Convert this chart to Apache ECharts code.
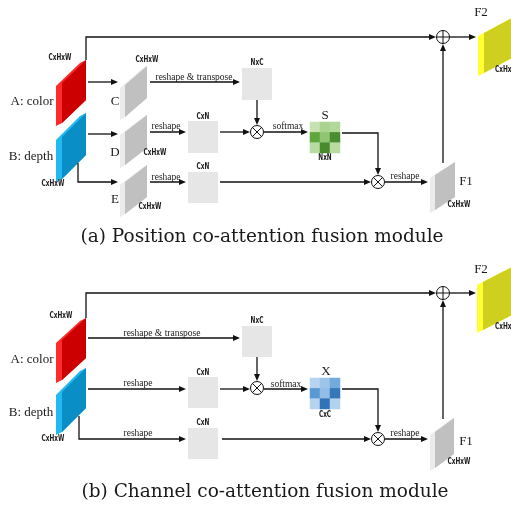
<!DOCTYPE html>
<html><head><meta charset="utf-8">
<script src="https://cdn.jsdelivr.net/npm/echarts@6/dist/echarts.min.js"></script>
<style>html,body{margin:0;padding:0;background:#fff}#c{width:511px;height:505px}</style>
</head><body><div id="c"></div><script>
// ---------- data (labels and attention-map values) ----------
const captions = ['(a) Position co-attention fusion module', '(b) Channel co-attention fusion module'];
const inputLabels = ['A: color', 'B: depth'];
const branchLabels = ['C', 'D', 'E'];
const outputLabels = ['F1', 'F2'];
const attnLabels = ['S', 'X'];
const attnDims = ['NxN', 'CxC'];
const dimLabels = ['CxHxW', 'NxC', 'CxN'];
const opLabels = ['reshape & transpose', 'reshape', 'softmax'];
const cellIdx = ['0', '1', '2'];
const heatS = [[0.15, 0.3, 0.25], [0.66, 0.42, 0.88], [0.22, 0.9, 0.22]];
const heatX = [[0.2, 0.35, 0.55], [0.68, 0.4, 0.92], [0.2, 0.95, 0.22]];

// ---------- layout (pixel space of the hidden value axes) ----------
const RED = ['#ff2a2a', '#cc0000'], BLUE = ['#22b8f0', '#0a8ec6'], GRAY = ['#ebebeb', '#c0c0c0'], YEL = ['#ffff33', '#cfcf1f'];
const slabs = [
  [56, 86, 83, 60, 40, 6, RED], [56, 86, 137, 113, 42, 6, BLUE],
  [120, 147, 85, 66, 32, 5, GRAY], [120, 147, 132, 115, 33, 5, GRAY], [120, 147, 182, 165, 32, 5, GRAY],
  [430, 455, 175, 162, 35, 5, GRAY], [478, 512, 33, 18, 40, 6, YEL],
  [56, 86, 340, 318, 40, 6, RED], [56, 86, 392, 368, 40, 6, BLUE],
  [430, 454, 432, 418, 36, 5, GRAY], [477, 512, 282, 267, 48, 6, YEL]
];
const boxes = [[242, 68, 30, 32], [188, 121, 30, 32], [188, 172, 30, 31],
               [242, 326, 30, 31], [188, 377, 30, 31], [188, 428, 30, 31]];
const arrows = [
  [[86, 60], [86, 37], [436, 37]], [[88, 82], [118, 82]], [[150, 82], [240, 82]], [[257, 100], [257, 125]],
  [[88, 134], [118, 134]], [[150, 132], [186, 132]], [[220, 132], [250, 132]], [[78, 163], [78, 182], [118, 182]],
  [[150, 182], [186, 182]], [[220, 182], [371, 182]], [[264, 132], [308, 132]], [[342, 133], [378, 133], [378, 175]],
  [[385, 182], [428, 182]], [[443, 163], [443, 44]], [[450, 37], [476, 37]],
  [[86, 318], [86, 293], [436, 293]], [[88, 338], [240, 338]], [[257, 357], [257, 381]], [[88, 389], [186, 389]],
  [[220, 389], [250, 389]], [[79, 416], [79, 439], [186, 439]], [[222, 439], [371, 439]], [[264, 389], [308, 389]],
  [[342, 389], [378, 389], [378, 432]], [[385, 439], [428, 439]], [[443, 419], [443, 300]], [[450, 293], [476, 293]]
];
const ops = [[257, 132, 'x'], [378, 182, 'x'], [443, 37, '+'], [257, 388, 'x'], [378, 439, 'x'], [443, 293, '+']];
const SERIF = 'Liberation Serif', CAP = 'DejaVu Serif', SMALL = 'bold 8.5px "DejaVu Sans"';
// [text, x, y, kind, align]
const texts = [
  [inputLabels[0], 32, 102, 'lab'], [inputLabels[1], 31, 157, 'lab'],
  [dimLabels[0], 60, 58, 'sm'], [dimLabels[0], 53, 184, 'sm'],
  [branchLabels[0], 115, 102, 'br'], [branchLabels[1], 115, 153, 'br'], [branchLabels[2], 115, 200, 'br'],
  [dimLabels[0], 147, 60, 'sm'], [dimLabels[0], 155, 153, 'sm'], [dimLabels[0], 150, 207, 'sm'],
  [opLabels[0], 194, 77, 'op'], [dimLabels[1], 257, 63, 'sm'],
  [dimLabels[2], 203, 117, 'sm'], [opLabels[1], 166, 126, 'op'], [dimLabels[2], 203, 167, 'sm'], [opLabels[1], 166, 177, 'op'],
  [opLabels[2], 288, 126, 'op'], [attnLabels[0], 325, 116, 'br'], [attnDims[0], 325, 158, 'sm'],
  [opLabels[1], 405, 176, 'op'], [outputLabels[0], 466, 182, 'lab'], [dimLabels[0], 459, 205, 'sm'],
  [outputLabels[1], 481, 13, 'lab'], [dimLabels[0], 495, 70, 'sm', 'left'],
  [captions[0], 262, 237, 'cap'],
  [inputLabels[0], 32, 360, 'lab'], [inputLabels[1], 31, 413, 'lab'],
  [dimLabels[0], 61, 316, 'sm'], [dimLabels[0], 53, 439, 'sm'],
  [opLabels[0], 162, 333, 'op'], [dimLabels[1], 257, 321, 'sm'],
  [opLabels[1], 138, 383, 'op'], [opLabels[1], 138, 433, 'op'],
  [dimLabels[2], 203, 373, 'sm'], [dimLabels[2], 203, 423, 'sm'],
  [opLabels[2], 286, 384, 'op'], [attnLabels[1], 326, 372, 'br'], [attnDims[1], 325, 415, 'sm'],
  [opLabels[1], 405, 433, 'op'], [outputLabels[0], 466, 442, 'lab'], [dimLabels[0], 459, 462, 'sm'],
  [outputLabels[1], 481, 270, 'lab'], [dimLabels[0], 495, 327, 'sm', 'left'],
  [captions[1], 265, 492, 'cap']
];
const fonts = { lab: '13px "' + SERIF + '"', br: '13px "' + SERIF + '"', op: '9.5px "' + SERIF + '"', cap: '18.5px "' + CAP + '"', sm: SMALL };

function renderDiagram(params, api) {
  const P = (x, y) => api.coord([x, y]);
  const ch = [];
  slabs.forEach(s => {
    const [L, R, yTL, yTR, H, t, col] = s;
    const dy = 3;
    ch.push({ type: 'polygon', shape: { points: [P(L, yTL + dy), P(R - t, yTR + dy), P(R, yTR), P(R, yTR + H), P(L + t, yTL + H), P(L, yTL + H + dy)] }, style: { fill: col[0] } });
    ch.push({ type: 'polygon', shape: { points: [P(L + t, yTL), P(R, yTR), P(R, yTR + H), P(L + t, yTL + H)] }, style: { fill: col[1] } });
  });
  boxes.forEach(b => {
    const p0 = P(b[0], b[1]), p1 = P(b[0] + b[2], b[1] + b[3]);
    ch.push({ type: 'rect', shape: { x: p0[0], y: p0[1], width: p1[0] - p0[0], height: p1[1] - p0[1] }, style: { fill: '#e6e6e6' } });
  });
  arrows.forEach(a => {
    const pts = a.map(p => P(p[0], p[1]));
    const e = pts[pts.length - 1], s = pts[pts.length - 2];
    const dx = e[0] - s[0], dy = e[1] - s[1], len = Math.hypot(dx, dy), ux = dx / len, uy = dy / len;
    const hl = 7, hw = 3;
    const base = [e[0] - ux * hl, e[1] - uy * hl];
    const line = pts.slice(0, -1).concat([[e[0] - ux * 3, e[1] - uy * 3]]);
    ch.push({ type: 'polyline', shape: { points: line }, style: { stroke: '#111', lineWidth: 1.3, fill: null } });
    ch.push({ type: 'polygon', shape: { points: [e, [base[0] - uy * hw, base[1] + ux * hw], [base[0] + uy * hw, base[1] - ux * hw]] }, style: { fill: '#111' } });
  });
  ops.forEach(o => {
    const c = P(o[0], o[1]), r = 6.5;
    ch.push({ type: 'circle', shape: { cx: c[0], cy: c[1], r: r }, style: { fill: '#fff', stroke: '#111', lineWidth: 1 } });
    if (o[2] === '+') {
      ch.push({ type: 'line', shape: { x1: c[0] - r, y1: c[1], x2: c[0] + r, y2: c[1] }, style: { stroke: '#111', lineWidth: 1 } });
      ch.push({ type: 'line', shape: { x1: c[0], y1: c[1] - r, x2: c[0], y2: c[1] + r }, style: { stroke: '#111', lineWidth: 1 } });
    } else {
      const d = r * 0.7071;
      ch.push({ type: 'line', shape: { x1: c[0] - d, y1: c[1] - d, x2: c[0] + d, y2: c[1] + d }, style: { stroke: '#111', lineWidth: 1 } });
      ch.push({ type: 'line', shape: { x1: c[0] - d, y1: c[1] + d, x2: c[0] + d, y2: c[1] - d }, style: { stroke: '#111', lineWidth: 1 } });
    }
  });
  texts.forEach(t => {
    const p = P(t[1], t[2]);
    ch.push({ type: 'text', x: p[0], y: p[1], scaleX: t[3] === 'sm' ? 0.68 : 1,
      style: { text: t[0], font: fonts[t[3]], fill: '#1a1a1a', align: t[4] || 'center', verticalAlign: 'middle' } });
  });
  return { type: 'group', children: ch };
}

const toCells = m => { const out = []; m.forEach((row, r) => row.forEach((v, c) => out.push([c, r, v]))); return out; };

const chart = echarts.init(document.getElementById('c'));
chart.setOption({
  animation: false,
  backgroundColor: '#fff',
  grid: [
    { left: 0, top: 0, width: 511, height: 505 },
    { left: 310, top: 122, width: 30, height: 31 },
    { left: 310, top: 378, width: 30, height: 31 }
  ],
  xAxis: [
    { type: 'value', min: 0, max: 511, show: false, gridIndex: 0 },
    { type: 'category', data: cellIdx, show: false, gridIndex: 1 },
    { type: 'category', data: cellIdx, show: false, gridIndex: 2 }
  ],
  yAxis: [
    { type: 'value', min: 0, max: 505, inverse: true, show: false, gridIndex: 0 },
    { type: 'category', data: cellIdx, inverse: true, show: false, gridIndex: 1 },
    { type: 'category', data: cellIdx, inverse: true, show: false, gridIndex: 2 }
  ],
  visualMap: [
    { type: 'continuous', show: false, min: 0, max: 1, seriesIndex: 1, inRange: { color: ['#e2f1d8', '#a3d086', '#5ea63c', '#3f7f2a'] } },
    { type: 'continuous', show: false, min: 0, max: 1, seriesIndex: 2, inRange: { color: ['#d8e8f7', '#a0c6ea', '#5b9bd5', '#2a6cb2'] } }
  ],
  series: [
    { type: 'custom', xAxisIndex: 0, yAxisIndex: 0, data: [[0, 0]], renderItem: renderDiagram, silent: true },
    { type: 'heatmap', xAxisIndex: 1, yAxisIndex: 1, data: toCells(heatS), itemStyle: { borderWidth: 0 } },
    { type: 'heatmap', xAxisIndex: 2, yAxisIndex: 2, data: toCells(heatX), itemStyle: { borderWidth: 0 } }
  ]
});
</script></body></html>
